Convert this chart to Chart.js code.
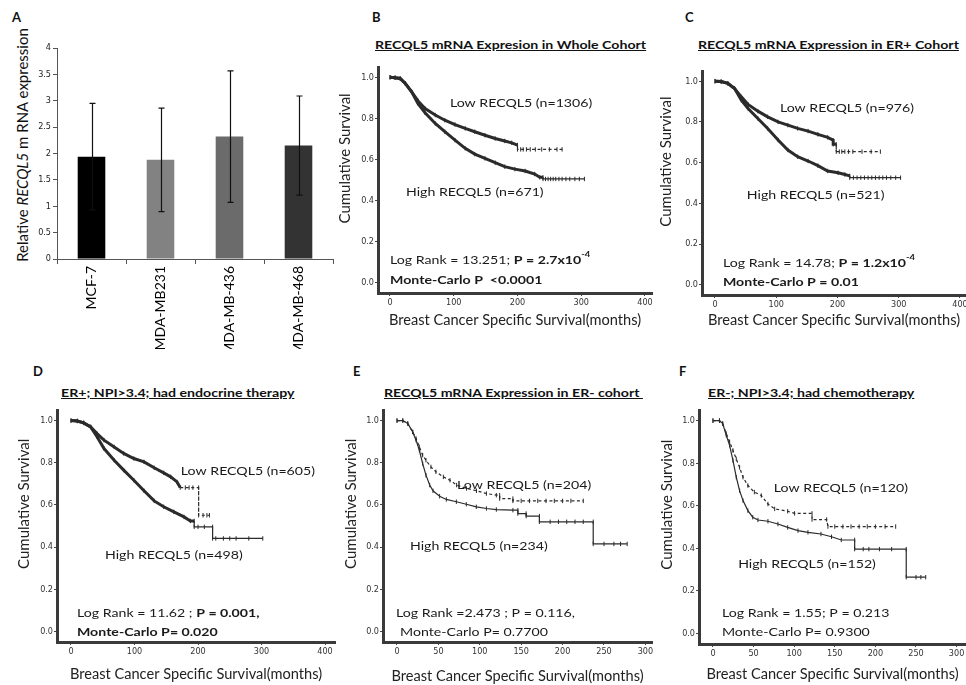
<!DOCTYPE html>
<html>
<head>
<meta charset="utf-8">
<script src="https://cdn.jsdelivr.net/npm/chart.js@4.4.0/dist/chart.umd.min.js"></script>
<style>
  html, body { margin: 0; padding: 0; background: #fff; }
  #page { position: relative; width: 966px; height: 685px; overflow: hidden; font-family: Lato, "Open Sans", sans-serif; color: #111; }
  canvas { position: absolute; }
  .letter { position: absolute; font-weight: bold; font-size: 13px; line-height: 13px; }
  .ptitle { position: absolute; font-weight: bold; font-size: 12px; line-height: 12px; text-decoration: underline; white-space: pre; transform-origin: 0 50%; transform: scaleX(1.18); }
  .ylab { position: absolute; font-size: 15px; white-space: nowrap; transform: translate(-50%, -50%) rotate(-90deg); }
</style>
</head>
<body>
<div id="page">
  <div class="letter" style="left:12px;top:11px">A</div>
  <div class="letter" style="left:372px;top:11px">B</div>
  <div class="letter" style="left:685px;top:11px">C</div>
  <div class="letter" style="left:33px;top:365px">D</div>
  <div class="letter" style="left:353px;top:365px">E</div>
  <div class="letter" style="left:679px;top:365px">F</div>

  <div class="ptitle" style="left:375px;top:39px">RECQL5 mRNA Expresion in Whole Cohort</div>
  <div class="ptitle" style="left:698px;top:39px">RECQL5 mRNA Expression in ER+ Cohort</div>
  <div class="ptitle" style="left:61px;top:387px">ER+; NPI&gt;3.4; had endocrine therapy</div>
  <div class="ptitle" style="left:384px;top:387px">RECQL5 mRNA Expression in ER- cohort </div>
  <div class="ptitle" style="left:708px;top:387px">ER-; NPI&gt;3.4; had chemotherapy</div>

  <div class="ylab" style="left:22px;top:145px">Relative <i>RECQL5</i> m RNA expression</div>

  <canvas id="chartA"></canvas>
  <canvas id="chartB"></canvas>
  <canvas id="chartC"></canvas>
  <canvas id="chartD"></canvas>
  <canvas id="chartE"></canvas>
  <canvas id="chartF"></canvas>
</div>
<script>
// ---- Panel A: relative RECQL5 expression per cell line ----
const cellLines = ["MCF-7", "MDA-MB231", "MDA-MB-436", "MDA-MB-468"];
const relExpr = [1.94, 1.88, 2.32, 2.15];
const relExprSD = [1.01, 0.98, 1.245, 0.94];
const barColors = ["#000000", "#828282", "#6b6b6b", "#333333"];

// ---- KM axis ticks ----
const survTicks = [0, 0.2, 0.4, 0.6, 0.8, 1.0];
const monthTicks400 = [0, 100, 200, 300, 400];
const monthTicks300 = [0, 50, 100, 150, 200, 250, 300];

// ---- B: whole cohort ----
const bLowT = [0, 8, 16, 24, 34, 44, 55, 71, 86, 102, 118, 133, 149, 165, 180, 191, 200, 200, 205, 209, 214, 220, 228, 238, 250, 262, 270];
const bLowS = [1.0, 0.998, 0.994, 0.97, 0.929, 0.885, 0.848, 0.816, 0.791, 0.77, 0.751, 0.735, 0.718, 0.702, 0.69, 0.681, 0.67, 0.649, 0.649, 0.649, 0.649, 0.649, 0.649, 0.649, 0.649, 0.649, 0.649];
const bHighT = [0, 8, 16, 24, 34, 44, 55, 71, 86, 102, 118, 133, 149, 165, 180, 196, 212, 227, 235, 240, 240, 244, 248, 252, 256, 260, 265, 270, 276, 282, 290, 297, 305];
const bHighS = [1.0, 0.998, 0.994, 0.97, 0.929, 0.872, 0.827, 0.775, 0.735, 0.694, 0.654, 0.626, 0.605, 0.584, 0.565, 0.553, 0.544, 0.529, 0.513, 0.513, 0.505, 0.505, 0.505, 0.505, 0.505, 0.505, 0.505, 0.505, 0.505, 0.505, 0.505, 0.505, 0.505];

// ---- C: ER+ cohort ----
const cLowT = [0, 10, 21, 32, 43, 54, 70, 86, 103, 119, 135, 152, 168, 184, 193, 193, 198, 198, 203, 207, 212, 218, 225, 240, 255, 270];
const cLowS = [1.0, 0.998, 0.989, 0.964, 0.923, 0.886, 0.853, 0.825, 0.80, 0.784, 0.768, 0.755, 0.739, 0.724, 0.71, 0.69, 0.69, 0.654, 0.654, 0.654, 0.654, 0.654, 0.654, 0.654, 0.654, 0.654];
const cHighT = [0, 10, 21, 32, 43, 54, 70, 86, 103, 119, 135, 152, 168, 184, 201, 212, 220, 220, 226, 232, 238, 244, 250, 256, 262, 268, 274, 280, 287, 295, 303];
const cHighS = [1.0, 0.998, 0.989, 0.964, 0.907, 0.866, 0.817, 0.768, 0.711, 0.662, 0.629, 0.608, 0.585, 0.559, 0.55, 0.542, 0.535, 0.526, 0.526, 0.526, 0.526, 0.526, 0.526, 0.526, 0.526, 0.526, 0.526, 0.526, 0.526, 0.526, 0.526];

// ---- D: ER+, NPI>3.4, endocrine therapy ----
const dLowT = [0, 10, 20, 31, 41, 52, 68, 83, 99, 115, 131, 146, 157, 167, 172, 180, 186, 192, 201, 201, 208, 214, 218];
const dLowS = [1.0, 0.998, 0.989, 0.97, 0.938, 0.907, 0.875, 0.844, 0.82, 0.804, 0.776, 0.752, 0.733, 0.709, 0.682, 0.682, 0.682, 0.682, 0.682, 0.551, 0.551, 0.551, 0.551];
const dHighT = [0, 10, 20, 31, 41, 52, 68, 83, 99, 115, 131, 146, 162, 178, 188, 194, 194, 200, 210, 223, 223, 228, 240, 250, 260, 280, 302];
const dHighS = [1.0, 0.998, 0.989, 0.97, 0.923, 0.867, 0.812, 0.765, 0.717, 0.667, 0.619, 0.591, 0.567, 0.543, 0.524, 0.524, 0.496, 0.496, 0.496, 0.496, 0.441, 0.441, 0.441, 0.441, 0.441, 0.441, 0.441];

// ---- E: ER- cohort ----
const eLowT = [0, 7, 13, 19, 23, 27, 31, 35, 41, 47, 56, 64, 72, 84, 96, 108, 120, 124, 124, 140, 140, 150, 160, 170, 180, 190, 200, 210, 225];
const eLowS = [1.0, 1.0, 0.986, 0.946, 0.915, 0.875, 0.836, 0.812, 0.78, 0.757, 0.733, 0.717, 0.694, 0.678, 0.667, 0.654, 0.646, 0.646, 0.63, 0.63, 0.619, 0.619, 0.619, 0.619, 0.619, 0.619, 0.619, 0.619, 0.619];
const eHighT = [0, 7, 13, 19, 23, 27, 31, 35, 39.5, 43.5, 51.5, 59.6, 71.7, 83.7, 95.8, 108, 120, 140, 146, 146, 156, 156, 172, 172, 185, 195, 205, 215, 225, 237, 237, 250, 262, 270, 278];
const eHighS = [1.0, 1.0, 0.986, 0.946, 0.907, 0.859, 0.796, 0.741, 0.694, 0.667, 0.641, 0.626, 0.615, 0.603, 0.591, 0.583, 0.578, 0.575, 0.575, 0.559, 0.559, 0.547, 0.547, 0.52, 0.52, 0.52, 0.52, 0.52, 0.52, 0.52, 0.415, 0.415, 0.415, 0.415, 0.415];

// ---- F: ER-, NPI>3.4, chemotherapy ----
const fLowT = [0, 8, 12, 16.4, 20.5, 24.6, 28.7, 32.8, 37, 43, 51, 59.5, 67.7, 76, 92, 100.5, 122, 122, 140, 141.6, 150, 160, 170, 180, 190, 200, 212, 225];
const fLowS = [1.0, 1.0, 0.986, 0.939, 0.90, 0.86, 0.82, 0.78, 0.734, 0.695, 0.664, 0.648, 0.608, 0.585, 0.574, 0.564, 0.564, 0.535, 0.535, 0.502, 0.502, 0.502, 0.502, 0.502, 0.502, 0.502, 0.502, 0.502];
const fHighT = [0, 8, 12, 16.4, 20.5, 24.6, 28.7, 32.8, 37, 43, 49, 55.4, 67.7, 80, 92, 104.7, 117, 133, 146, 158, 174.5, 174.5, 185, 192, 205, 220, 238, 238, 250, 256, 262];
const fHighS = [1.0, 1.0, 0.986, 0.931, 0.884, 0.813, 0.734, 0.671, 0.624, 0.577, 0.546, 0.533, 0.527, 0.514, 0.498, 0.483, 0.475, 0.467, 0.454, 0.439, 0.439, 0.396, 0.396, 0.396, 0.396, 0.396, 0.396, 0.264, 0.264, 0.264, 0.264];

const INK = "#2b2b2b";
const TEXT_SX = 1.18;     // the figure text is horizontally stretched
const NOTE_SIZE = 12;
const TICK_FONT = { family: "'Liberation Sans Narrow', 'DejaVu Sans Condensed', sans-serif", size: 9 };

Chart.defaults.font.family = "Lato, 'Open Sans', sans-serif";

// error bars for panel A
const errorBars = {
  id: "errorBars",
  afterDatasetsDraw(chart) {
    const { ctx, scales: { y } } = chart;
    const meta = chart.getDatasetMeta(0);
    ctx.save();
    ctx.strokeStyle = "#111";
    ctx.lineWidth = 1.2;
    meta.data.forEach((bar, i) => {
      const top = y.getPixelForValue(relExpr[i] + relExprSD[i]);
      const bot = y.getPixelForValue(relExpr[i] - relExprSD[i]);
      const cx = Math.round(bar.x) + 0.5;
      ctx.beginPath();
      ctx.moveTo(cx, top); ctx.lineTo(cx, bot);
      ctx.moveTo(cx - 3, top); ctx.lineTo(cx + 3, top);
      ctx.moveTo(cx - 3, bot); ctx.lineTo(cx + 3, bot);
      ctx.stroke();
    });
    ctx.restore();
  }
};

// free text inside KM plots, anchored at data coordinates
const kmText = {
  id: "kmText",
  afterDatasetsDraw(chart, args, opts) {
    const { ctx, scales: { x, y } } = chart;
    ctx.save();
    ctx.fillStyle = "#1a1a1a";
    ctx.textBaseline = "middle";
    ctx.textAlign = "left";
    (opts.items || []).forEach(item => {
      ctx.save();
      ctx.translate(x.getPixelForValue(item.at[0]), y.getPixelForValue(item.at[1]));
      ctx.scale(TEXT_SX, 1);
      let cx = 0;
      item.runs.forEach(run => {
        const size = run.sup ? 8 : NOTE_SIZE;
        ctx.font = (run.b ? "bold " : "") + size + "px Lato, 'Open Sans', sans-serif";
        ctx.fillText(run.t, cx, run.sup ? -5 : 0);
        cx += ctx.measureText(run.t).width;
      });
      ctx.restore();
    });
    // y axis title, centred on the upper part of the axis like the original
    if (opts.yTitle) {
      ctx.save();
      ctx.translate(y.left + 7.5, y.getPixelForValue(opts.yTitle.at));
      ctx.rotate(-Math.PI / 2);
      ctx.textAlign = "center";
      ctx.fillStyle = "#222";
      ctx.font = "15px Lato, 'Open Sans', sans-serif";
      ctx.fillText(opts.yTitle.text, 0, 0);
      ctx.restore();
    }
    ctx.restore();
  }
};

function placeCanvas(id, left, top, width, height) {
  const c = document.getElementById(id);
  c.width = width; c.height = height;
  c.style.left = left + "px"; c.style.top = top + "px";
  return c;
}

// Panel A bar chart
(function () {
  const c = placeCanvas("chartA", 35, 40, 303, 309);
  new Chart(c, {
    type: "bar",
    data: {
      labels: cellLines,
      datasets: [{
        data: relExpr,
        backgroundColor: barColors,
        borderWidth: 0,
        barPercentage: 0.4,
        categoryPercentage: 1.0
      }]
    },
    options: {
      responsive: false, animation: false, devicePixelRatio: 1,
      layout: { padding: { top: 8, right: 5, left: 0, bottom: 0 } },
      plugins: { legend: { display: false }, tooltip: { enabled: false } },
      scales: {
        x: {
          grid: { offset: true, drawOnChartArea: false, tickLength: 5, color: "#555" },
          border: { color: "#555", width: 1 },
          ticks: { minRotation: 90, maxRotation: 90, autoSkip: false, padding: 2, color: "#000", font: { size: 14 } },
          afterFit: s => { s.height = 90; }
        },
        y: {
          min: 0, max: 4,
          ticks: { stepSize: 0.5, padding: 2, color: "#222", font: TICK_FONT, callback: v => String(v) },
          grid: { drawOnChartArea: false, tickLength: 4, color: "#555" },
          border: { color: "#555", width: 1 },
          afterFit: s => { s.width = 22; }
        }
      }
    },
    plugins: [errorBars]
  });
})();

// Kaplan-Meier panel
function kmChart(id, g, series, monthTicks, notes) {
  const left = g.yt - 7, top = g.T - 8;
  const width = g.R + 10 - left, height = g.xt + 7 - top;
  const c = placeCanvas(id, left, top, width, height);
  new Chart(c, {
    type: "line",
    data: {
      datasets: series.map(s => ({
        data: s.t.map((t, i) => ({ x: t, y: s.s[i] })),
        borderColor: INK,
        borderWidth: s.w,
        borderDash: s.dash ? [2.5, 2] : [],
        pointStyle: "line",
        pointRotation: 90,
        pointRadius: 2.2,
        pointBorderWidth: 1,
        pointBorderColor: INK,
        pointBackgroundColor: INK,
        tension: 0,
        fill: false,
        segment: {
          borderWidth: ctx => ctx.p0.parsed.x >= s.tail ? 1.2 : s.w,
          borderDash: ctx => (s.dash || ctx.p0.parsed.x >= s.tail && s.low) ? [3, 2.5] : []
        }
      }))
    },
    options: {
      responsive: false, animation: false, devicePixelRatio: 1,
      layout: { padding: { top: 8, right: 10, left: 0, bottom: 0 } },
      plugins: {
        legend: { display: false }, tooltip: { enabled: false },
        kmText: { items: notes, yTitle: { text: "Cumulative Survival", at: 0.605 } }
      },
      scales: {
        x: {
          type: "linear", min: g.xmin, max: g.xmax,
          afterBuildTicks: s => { s.ticks = monthTicks.map(v => ({ value: v })); },
          ticks: { padding: 1, color: "#333", font: TICK_FONT },
          grid: { drawOnChartArea: false, tickLength: 3, color: "#444" },
          border: { display: true, width: 3, color: "#3a3a3a" },
          title: { display: true, text: "Breast Cancer Specific Survival(months)", color: "#222", padding: 0, font: { size: 14.6, lineHeight: 1 } },
          afterFit: s => { s.height = g.xt + 7 - g.B; }
        },
        y: {
          min: -0.05, max: 1.05,
          afterBuildTicks: s => { s.ticks = survTicks.map(v => ({ value: v })); },
          ticks: { padding: 1, color: "#333", font: TICK_FONT, callback: v => Number(v).toFixed(1) },
          grid: { drawOnChartArea: false, tickLength: 3, color: "#444" },
          border: { display: true, width: 3, color: "#3a3a3a" },
          afterFit: s => { s.width = g.L - left; }
        }
      }
    },
    plugins: [kmText]
  });
}

const lowLabel = n => [{ t: "Low RECQL5 (n=" + n + ")" }];
const highLabel = n => [{ t: "High RECQL5 (n=" + n + ")" }];

kmChart("chartB",
  { L: 378, T: 67, R: 652, B: 293, xmin: -18.8, xmax: 411, yt: 345, xt: 321 },
  [
    { t: bLowT, s: bLowS, w: 3, tail: 200, low: true },
    { t: bHighT, s: bHighS, w: 3, tail: 240 }
  ],
  monthTicks400,
  [
    { at: [94, 0.874], runs: lowLabel(1306) },
    { at: [25, 0.442], runs: highLabel(671) },
    { at: [0, 0.112], runs: [{ t: "Log Rank = 13.251; " }, { t: "P = 2.7x10", b: true }, { t: "-4", b: true, sup: true }] },
    { at: [0, 0.015], runs: [{ t: "Monte-Carlo P  <0.0001", b: true }] }
  ]);

kmChart("chartC",
  { L: 702, T: 71, R: 966, B: 295, xmin: -21.2, xmax: 409.8, yt: 666, xt: 321 },
  [
    { t: cLowT, s: cLowS, w: 3, tail: 198, low: true },
    { t: cHighT, s: cHighS, w: 3, tail: 220 }
  ],
  monthTicks400,
  [
    { at: [106, 0.868], runs: lowLabel(976) },
    { at: [52, 0.441], runs: highLabel(521) },
    { at: [13, 0.108], runs: [{ t: "Log Rank = 14.78; " }, { t: "P = 1.2x10", b: true }, { t: "-4", b: true, sup: true }] },
    { at: [13, 0.015], runs: [{ t: "Monte-Carlo P = 0.01", b: true }] }
  ]);

kmChart("chartD",
  { L: 57, T: 410, R: 335, B: 642, xmin: -22, xmax: 415.7, yt: 24, xt: 675 },
  [
    { t: dLowT, s: dLowS, w: 3, tail: 172, low: true },
    { t: dHighT, s: dHighS, w: 3, tail: 194 }
  ],
  monthTicks400,
  [
    { at: [173, 0.758], runs: lowLabel(605) },
    { at: [53.5, 0.36], runs: highLabel(498) },
    { at: [9.4, 0.085], runs: [{ t: "Log Rank = 11.62 ; " }, { t: "P = 0.001,", b: true }] },
    { at: [9.4, -0.005], runs: [{ t: "Monte-Carlo P= 0.020", b: true }] }
  ]);

kmChart("chartE",
  { L: 383, T: 410, R: 652, B: 642, xmin: -16.9, xmax: 308, yt: 351, xt: 677 },
  [
    { t: eLowT, s: eLowS, w: 1.3, tail: 0, dash: true },
    { t: eHighT, s: eHighS, w: 1.3, tail: 0 }
  ],
  monthTicks300,
  [
    { at: [72.5, 0.692], runs: lowLabel(204) },
    { at: [15.7, 0.403], runs: highLabel(234) },
    { at: [-1.2, 0.085], runs: [{ t: "Log Rank =2.473 ; P = 0.116," }] },
    { at: [3.6, -0.005], runs: [{ t: "Monte-Carlo P= 0.7700" }] }
  ]);

kmChart("chartF",
  { L: 699, T: 410, R: 966, B: 644, xmin: -17.2, xmax: 311.6, yt: 667, xt: 675 },
  [
    { t: fLowT, s: fLowS, w: 1.3, tail: 0, dash: true },
    { t: fHighT, s: fHighS, w: 1.3, tail: 0 }
  ],
  monthTicks300,
  [
    { at: [75, 0.684], runs: lowLabel(120) },
    { at: [31, 0.325], runs: highLabel(152) },
    { at: [11, 0.094], runs: [{ t: "Log Rank = 1.55; P = 0.213" }] },
    { at: [11, 0.005], runs: [{ t: "Monte-Carlo P= 0.9300" }] }
  ]);
</script>
</body>
</html>
